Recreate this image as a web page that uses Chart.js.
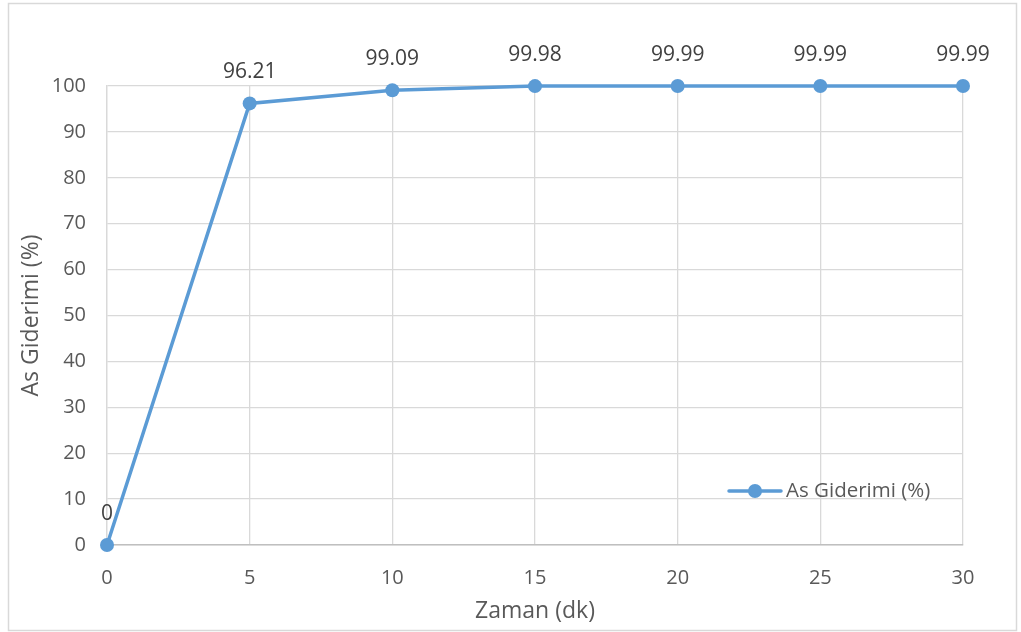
<!DOCTYPE html>
<html>
<head>
<meta charset="utf-8">
<script src="https://cdn.jsdelivr.net/npm/chart.js@4.4.1/dist/chart.umd.min.js"></script>
<style>
  html, body { margin: 0; padding: 0; background: #ffffff; }
  #wrap { width: 1021px; height: 632px; position: relative; }
</style>
</head>
<body>
<div id="wrap"><canvas id="c" width="1021" height="632"></canvas></div>
<script>
// Removal efficiency over contact time
const timeMinutes = [0, 5, 10, 15, 20, 25, 30];
const removalPercent = [0, 96.21, 99.09, 99.98, 99.99, 99.99, 99.99];
const seriesName = 'As Giderimi (%)';
const xTitle = 'Zaman (dk)';
const yTitle = 'As Giderimi (%)';

const FONT = "'Open Sans', 'Liberation Sans', sans-serif";
const LINE_COLOR = '#5B9BD5';
const TEXT_COLOR = '#595959';

// Outer frame around the whole figure
const framePlugin = {
  id: 'frame',
  beforeDraw(chart) {
    const ctx = chart.ctx;
    ctx.save();
    ctx.fillStyle = '#ffffff';
    ctx.fillRect(0, 0, chart.width, chart.height);
    ctx.strokeStyle = '#d9d9d9';
    ctx.lineWidth = 1.5;
    ctx.strokeRect(8.5, 3.5, 1008, 627);
    ctx.restore();
  }
};

// Value labels above each point
const valueLabels = {
  id: 'valueLabels',
  afterDatasetsDraw(chart) {
    const ctx = chart.ctx;
    const meta = chart.getDatasetMeta(0);
    ctx.save();
    ctx.font = '21px ' + FONT;
    ctx.fillStyle = '#404040';
    ctx.textAlign = 'center';
    ctx.textBaseline = 'middle';
    meta.data.forEach((pt, i) => {
      ctx.fillText(String(removalPercent[i]), pt.x, pt.y - 31);
    });
    ctx.restore();
  }
};

// Legend entry placed inside the plot area, lower right
const insideLegend = {
  id: 'insideLegend',
  afterDraw(chart) {
    const ctx = chart.ctx;
    const area = chart.chartArea;
    const x0 = area.right - 234;
    const y = area.bottom - 54;
    ctx.save();
    ctx.strokeStyle = LINE_COLOR;
    ctx.lineWidth = 3.5;
    ctx.lineCap = 'round';
    ctx.beginPath();
    ctx.moveTo(x0, y);
    ctx.lineTo(x0 + 52, y);
    ctx.stroke();
    ctx.fillStyle = LINE_COLOR;
    ctx.beginPath();
    ctx.arc(x0 + 26, y, 7, 0, Math.PI * 2);
    ctx.fill();
    ctx.font = '20.5px ' + FONT;
    ctx.fillStyle = TEXT_COLOR;
    ctx.textAlign = 'left';
    ctx.textBaseline = 'middle';
    ctx.fillText(seriesName, x0 + 57, y);
    ctx.restore();
  }
};

new Chart(document.getElementById('c'), {
  type: 'line',
  data: {
    datasets: [{
      label: seriesName,
      data: timeMinutes.map((t, i) => ({ x: t, y: removalPercent[i] })),
      borderColor: LINE_COLOR,
      backgroundColor: LINE_COLOR,
      borderWidth: 3.5,
      pointRadius: 7,
      pointHoverRadius: 7,
      pointBackgroundColor: LINE_COLOR,
      pointBorderWidth: 0,
      tension: 0,
      clip: false
    }]
  },
  options: {
    responsive: false,
    animation: false,
    devicePixelRatio: 1,
    layout: { padding: { left: 16, right: 58, top: 86, bottom: 0 } },
    plugins: {
      legend: { display: false },
      tooltip: { enabled: false }
    },
    scales: {
      x: {
        type: 'linear',
        min: 0,
        max: 30,
        ticks: {
          stepSize: 5,
          padding: 21,
          color: TEXT_COLOR,
          font: { family: FONT, size: 20 }
        },
        grid: { color: '#d9d9d9', lineWidth: 1.3, drawTicks: false },
        border: { color: '#bfbfbf', width: 1.5 },
        title: {
          display: true,
          text: xTitle,
          color: TEXT_COLOR,
          font: { family: FONT, size: 23 },
          padding: { top: 4, bottom: 7 }
        },
        afterFit(scale) { scale.height = 87; }
      },
      y: {
        min: 0,
        max: 100,
        ticks: {
          stepSize: 10,
          padding: 21,
          color: TEXT_COLOR,
          font: { family: FONT, size: 20 }
        },
        grid: { color: '#d9d9d9', lineWidth: 1.3, drawTicks: false },
        border: { color: '#d9d9d9', width: 1.3 },
        title: {
          display: true,
          text: yTitle,
          color: TEXT_COLOR,
          font: { family: FONT, size: 23 },
          padding: { top: 2, bottom: 4 }
        },
        afterFit(scale) { scale.width = 91; }
      }
    }
  },
  plugins: [framePlugin, valueLabels, insideLegend]
});
</script>
</body>
</html>
